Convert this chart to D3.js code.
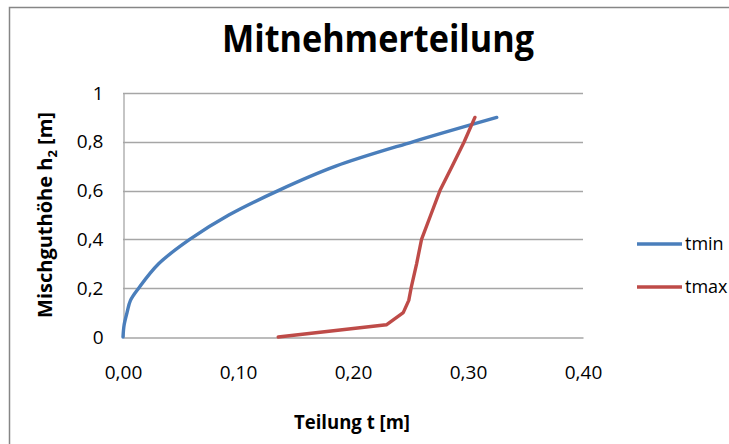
<!DOCTYPE html>
<html>
<head>
<meta charset="utf-8">
<script src="https://cdn.jsdelivr.net/npm/d3@7"></script>
<style>
  html, body { margin: 0; padding: 0; background: #fff; overflow: hidden; }
  svg { display: block; font-family: "Open Sans", "DejaVu Sans", sans-serif; }
</style>
</head>
<body>
<svg id="chart" width="729" height="444"></svg>
<script>
// Mischguthöhe h2 [m] against Teilung t [m]
const heights = [0, 0.05, 0.1, 0.15, 0.2, 0.3, 0.4, 0.5, 0.6, 0.7, 0.8, 0.9];
const tmin = [0, 0.001, 0.0035, 0.0065, 0.0136, 0.031, 0.058, 0.092, 0.135, 0.185, 0.252, 0.325];
const tmax = [0.135, 0.229, 0.2437, 0.2485, 0.2505, 0.2553, 0.2596, 0.2676, 0.2756, 0.2862, 0.2967, 0.306];
const seriesNames = ["tmin", "tmax"];
const xTicks = [0, 0.1, 0.2, 0.3, 0.4];
const yTicks = [0, 0.2, 0.4, 0.6, 0.8, 1];

const colors = { tmin: "#4a7ebb", tmax: "#be4b48" };
const svg = d3.select("#chart");

const plot = { left: 123, right: 583, top: 93, bottom: 337 };
const x = d3.scaleLinear().domain([0, 0.4]).range([plot.left, plot.right]);
const y = d3.scaleLinear().domain([0, 1]).range([plot.bottom, plot.top]);

const commaFmt = (digits) => (v) => v.toFixed(digits).replace(".", ",");
const yFmt = (v) => (v === 0 || v === 1) ? String(v) : commaFmt(1)(v);

// chart frame
svg.append("rect")
  .attr("x", 9.5).attr("y", 7.5)
  .attr("width", 800).attr("height", 500)
  .attr("fill", "#fff").attr("stroke", "#868686").attr("stroke-width", 1.5);

// title
svg.append("text")
  .attr("x", 378).attr("y", 52)
  .attr("text-anchor", "middle")
  .attr("font-size", 37).attr("font-weight", "bold")
  .attr("textLength", 312).attr("lengthAdjust", "spacingAndGlyphs")
  .attr("fill", "#000")
  .text("Mitnehmerteilung");

// horizontal gridlines
svg.append("g")
  .selectAll("line")
  .data(yTicks.filter(d => d > 0))
  .join("line")
  .attr("x1", plot.left).attr("x2", plot.right)
  .attr("y1", d => Math.round(y(d)) + 0.5).attr("y2", d => Math.round(y(d)) + 0.5)
  .attr("stroke", "#a6a6a6").attr("stroke-width", 1.3);

// y axis
const yAxis = svg.append("g")
  .attr("transform", `translate(${plot.left + 0.5},0)`)
  .call(d3.axisLeft(y).tickValues(yTicks).tickFormat(yFmt).tickSize(0).tickPadding(20));
yAxis.select(".domain").attr("stroke", "#a6a6a6").attr("stroke-width", 1.3);
yAxis.selectAll("text").attr("font-size", 19).attr("fill", "#000")
  .attr("font-family", "'Open Sans', sans-serif");

// x axis
const xAxis = svg.append("g")
  .attr("transform", `translate(0,${Math.round(plot.bottom) + 0.5})`)
  .call(d3.axisBottom(x).tickValues(xTicks).tickFormat(commaFmt(2)).tickSize(0).tickPadding(28));
xAxis.select(".domain").attr("stroke", "#a6a6a6").attr("stroke-width", 1.3);
xAxis.selectAll("text").attr("font-size", 19).attr("fill", "#000")
  .attr("font-family", "'Open Sans', sans-serif");

// axis titles
svg.append("text")
  .attr("x", 352).attr("y", 429)
  .attr("text-anchor", "middle")
  .attr("font-size", 20).attr("font-weight", "bold")
  .attr("textLength", 116).attr("lengthAdjust", "spacingAndGlyphs")
  .text("Teilung t [m]");

const yTitle = svg.append("text")
  .attr("transform", "translate(52,215) rotate(-90)")
  .attr("text-anchor", "middle")
  .attr("font-size", 20).attr("font-weight", "bold");
yTitle.append("tspan").text("Mischguthöhe h");
yTitle.append("tspan").attr("font-size", 13).attr("dy", 5).text("2");
yTitle.append("tspan").attr("dy", -5).text(" [m]");

// series lines: tmin smoothed, tmax straight segments
const smoothLine = d3.line()
  .curve(d3.curveCatmullRom.alpha(0.5))
  .x(d => x(d.t))
  .y(d => y(d.h));
const straightLine = d3.line()
  .x(d => x(d.t))
  .y(d => y(d.h));

const seriesData = {
  tmin: heights.map((h, i) => ({ h, t: tmin[i] })),
  tmax: heights.map((h, i) => ({ h, t: tmax[i] }))
};
const lineFor = { tmin: smoothLine, tmax: straightLine };

seriesNames.forEach(name => {
  svg.append("path")
    .datum(seriesData[name])
    .attr("fill", "none")
    .attr("stroke", colors[name])
    .attr("stroke-width", 3.4)
    .attr("stroke-linejoin", "round")
    .attr("stroke-linecap", "round")
    .attr("d", lineFor[name]);
});

// legend
const legend = svg.append("g");
seriesNames.forEach((name, i) => {
  const ly = 244 + i * 43;
  legend.append("line")
    .attr("x1", 637).attr("x2", 682)
    .attr("y1", ly).attr("y2", ly)
    .attr("stroke", colors[name]).attr("stroke-width", 3.4);
  legend.append("text")
    .attr("x", 685).attr("y", ly)
    .attr("dy", "0.35em")
    .attr("font-size", 18)
    .text(name);
});
</script>
</body>
</html>
